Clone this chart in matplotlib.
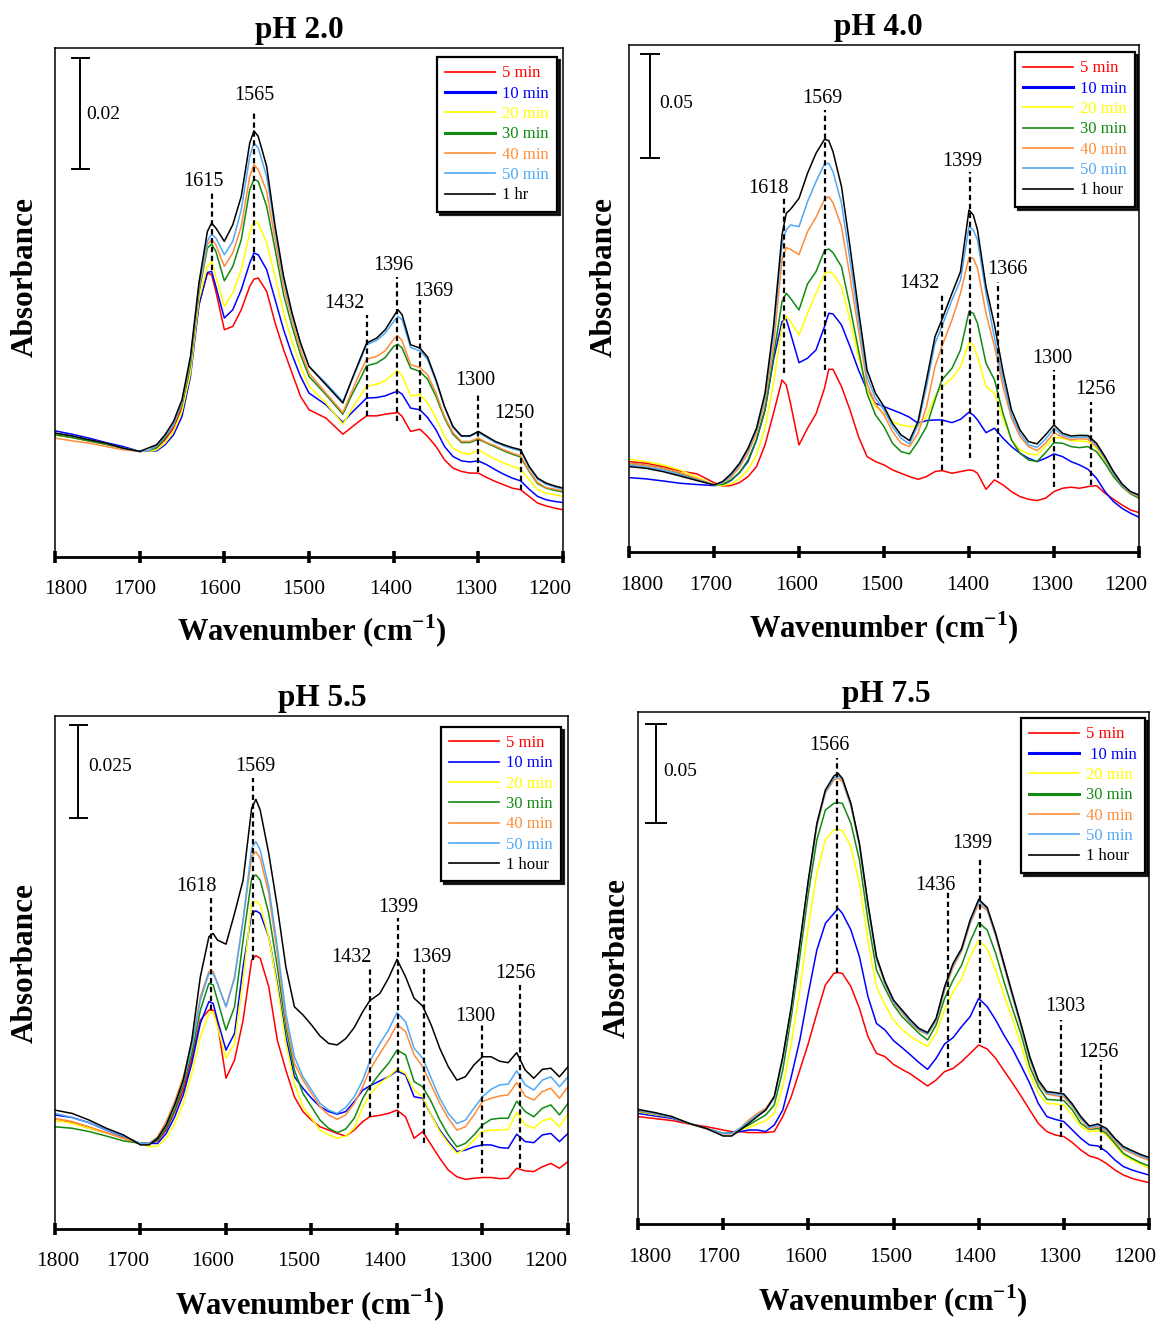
import matplotlib
matplotlib.use("Agg")
import matplotlib.pyplot as plt

plt.rcParams["font.family"] = ["Liberation Serif", "DejaVu Serif"]
plt.rcParams["mathtext.fontset"] = "custom"
plt.rcParams["mathtext.rm"] = "Liberation Serif"
plt.rcParams["mathtext.bf"] = "Liberation Serif:bold"

# ---------------- data (absorbance in mAbs, arbitrary offset) ----------------
SERIES_COLORS = ["#FF0000", "#0000FF", "#FFFF00", "#108A10", "#FF8C38", "#50A8F5", "#000000"]
LABELS_PH20 = ["5 min", "10 min", "20 min", "30 min", "40 min", "50 min", "1 hr"]
LABELS_PH40 = ["5 min", "10 min", "20 min", "30 min", "40 min", "50 min", "1 hour"]
LABELS_PH55 = ["5 min", "10 min", "20 min", "30 min", "40 min", "50 min", "1 hour"]
LABELS_PH75 = ["5 min", " 10 min", "20 min", "30 min", "40 min", "50 min", "1 hour"]
XTICKS = [1800, 1700, 1600, 1500, 1400, 1300, 1200]

# ---- pH 2.0 ----
WN_PH20 = [1800, 1780, 1760, 1740, 1720, 1700, 1690, 1680, 1670, 1660, 1650, 1640, 1630, 1620, 1615, 1610,
           1600, 1590, 1580, 1570, 1565, 1560, 1550, 1540, 1530, 1520, 1510, 1500, 1480, 1460, 1450, 1440,
           1432, 1420, 1410, 1400, 1395, 1390, 1380, 1369, 1360, 1350, 1340, 1330, 1320, 1310, 1300, 1290,
           1280, 1270, 1260, 1250, 1240, 1230, 1220, 1210, 1200]
PH20_5MIN = [22.0, 21.5, 20.9, 20.3, 19.6, 19.0, 19.1, 19.6, 21.1, 23.2, 26.8, 34.0, 45.4, 51.1, 50.8, 47.8,
             40.9, 41.5, 44.5, 48.7, 50.0, 50.2, 47.8, 42.1, 37.3, 33.1, 28.9, 26.5, 25.0, 22.1, 23.3, 24.5,
             25.4, 25.4, 25.7, 25.9, 26.0, 25.3, 22.6, 23.0, 21.7, 19.9, 17.5, 16.0, 15.4, 15.1, 15.1, 14.3,
             13.6, 13.0, 12.4, 12.1, 10.9, 9.7, 9.2, 8.8, 8.5]
PH20_10MIN = [22.7, 22.1, 21.4, 20.6, 19.9, 19.0, 19.1, 19.1, 20.2, 22.0, 25.3, 32.5, 45.4, 51.2, 51.4, 48.7,
              43.0, 44.5, 48.1, 52.9, 54.7, 54.4, 51.7, 46.3, 40.9, 36.4, 32.5, 29.5, 27.4, 24.2, 25.9, 27.4,
              28.6, 28.7, 29.0, 29.6, 29.8, 29.3, 26.8, 26.5, 25.1, 22.9, 19.9, 18.1, 17.3, 17.1, 17.3, 16.6,
              15.7, 14.9, 14.2, 13.7, 12.2, 10.9, 10.3, 10.0, 9.8]
PH20_20MIN = [22.0, 21.5, 20.9, 20.3, 19.6, 19.0, 19.0, 19.3, 20.5, 22.6, 26.2, 33.1, 46.3, 52.3, 53.2, 50.5,
              45.1, 47.5, 51.7, 58.3, 60.5, 60.1, 56.5, 50.5, 43.9, 38.8, 34.3, 30.7, 27.7, 23.9, 26.5, 28.9,
              30.7, 31.1, 31.7, 33.0, 33.5, 32.6, 29.0, 29.2, 27.8, 25.0, 21.7, 19.6, 18.8, 18.5, 19.3, 18.4,
              17.6, 16.9, 16.3, 15.8, 13.9, 12.1, 11.5, 11.2, 10.9]
PH20_30MIN = [22.0, 21.5, 20.9, 20.3, 19.6, 19.0, 19.1, 19.7, 21.4, 23.8, 27.4, 34.6, 47.6, 55.6, 56.3, 55.0,
              49.7, 52.3, 57.1, 66.1, 68.0, 67.6, 63.1, 55.3, 47.2, 41.5, 36.4, 32.5, 29.2, 25.7, 29.0, 31.9,
              34.4, 34.9, 35.9, 37.9, 38.3, 37.6, 34.0, 33.4, 32.0, 28.9, 25.0, 22.1, 20.6, 20.6, 21.2, 20.5,
              19.8, 19.1, 18.5, 18.0, 15.4, 13.2, 12.4, 12.0, 11.7]
PH20_40MIN = [21.4, 20.9, 20.5, 19.9, 19.3, 19.0, 19.1, 20.2, 21.7, 23.8, 27.7, 35.2, 48.1, 56.2, 57.2, 56.2,
              52.3, 54.7, 59.5, 68.5, 70.6, 69.7, 65.8, 57.1, 48.7, 42.7, 37.3, 33.1, 29.5, 26.0, 29.6, 33.1,
              35.6, 36.1, 37.1, 39.2, 39.8, 38.9, 34.6, 34.1, 32.8, 29.5, 25.3, 22.4, 20.8, 20.8, 21.4, 20.6,
              20.0, 19.3, 18.7, 18.2, 15.5, 13.4, 12.5, 12.2, 11.9]
PH20_50MIN = [22.3, 21.8, 21.1, 20.5, 19.6, 19.0, 19.1, 20.0, 21.7, 23.8, 28.0, 35.5, 48.7, 56.9, 58.1, 57.4,
              54.4, 56.8, 62.5, 72.1, 74.5, 73.6, 68.5, 58.9, 49.9, 43.6, 38.5, 34.3, 31.3, 28.0, 31.6, 35.2,
              38.2, 39.0, 40.3, 42.4, 43.3, 42.7, 37.7, 37.1, 35.6, 31.6, 27.0, 23.3, 21.7, 21.7, 22.4, 21.5,
              20.6, 20.0, 19.5, 19.1, 16.1, 14.0, 13.1, 12.6, 12.2]
PH20_1HR = [22.3, 21.8, 21.1, 20.5, 19.6, 19.0, 19.6, 20.2, 22.0, 24.4, 28.3, 36.1, 49.3, 58.6, 60.1, 59.2,
            56.8, 59.8, 64.9, 74.5, 76.7, 75.7, 70.3, 59.5, 50.5, 43.9, 38.5, 34.3, 31.0, 27.7, 31.7, 35.5,
            38.5, 39.4, 40.9, 43.3, 44.5, 43.6, 38.2, 37.6, 36.0, 31.9, 27.1, 23.5, 21.8, 21.8, 22.6, 21.7,
            20.8, 20.2, 19.7, 19.3, 16.3, 14.2, 13.3, 12.8, 12.4]

# ---- pH 4.0 ----
WN_PH40 = [1800, 1780, 1760, 1740, 1720, 1700, 1690, 1680, 1670, 1660, 1650, 1640, 1630, 1620, 1615, 1610,
           1600, 1590, 1580, 1570, 1565, 1560, 1550, 1540, 1530, 1520, 1510, 1500, 1490, 1480, 1470, 1460,
           1450, 1440, 1432, 1420, 1410, 1400, 1395, 1390, 1380, 1370, 1360, 1350, 1340, 1330, 1320, 1310,
           1300, 1290, 1280, 1270, 1260, 1250, 1240, 1230, 1220, 1210, 1200]
PH40_5MIN = [43.4, 42.6, 41.0, 38.9, 37.5, 33.3, 31.7, 31.9, 33.3, 36.2, 41.0, 51.4, 66.6, 82.6, 80.2, 71.4,
             51.4, 59.4, 66.3, 78.6, 87.7, 87.7, 79.4, 68.2, 55.4, 45.8, 43.4,
             41.8, 39.4, 37.8, 36.2, 34.9, 36.2, 38.6, 39.1, 37.8, 38.6, 39.4, 39.1, 37.8, 30.1, 34.6, 32.2,
             29.0, 26.6, 25.3, 24.7, 25.8, 29.0, 30.6, 31.1, 30.6, 31.4, 31.9, 28.2, 25.3, 22.6, 20.2, 18.9]
PH40_10MIN = [35.7, 35.1, 34.1, 33.0, 32.4, 31.9, 32.2, 34.3, 38.1, 43.4, 53.8, 68.2, 92.2, 110.6, 111.7, 105.0,
              90.9, 93.0, 97.0, 108.2, 114.6, 114.3, 109.0, 98.6, 87.4, 77.8, 71.4,
              69.8, 68.2, 66.6, 64.7, 61.8, 63.1, 63.4, 63.4, 62.1, 63.7, 67.1, 65.8, 63.4, 57.3, 59.4, 54.6,
              50.6, 47.4, 45.0, 43.4, 45.0, 47.1, 45.8, 43.4, 41.8, 39.7, 35.4, 29.0, 24.2, 21.0, 18.6, 16.7]
PH40_20MIN = [44.5, 43.4, 41.8, 39.4, 35.9, 32.2, 31.9, 32.7, 35.2, 39.4, 46.6, 59.4, 81.0, 108.2, 113.3, 110.6,
              104.2, 114.6, 124.2, 133.5, 134.6, 133.5, 127.4, 111.4, 93.8, 77.8, 69.8,
              66.6, 62.6, 61.0, 60.2, 60.5, 65.0, 74.6, 79.4, 83.4, 89.0, 100.5, 99.4, 93.8, 79.4, 76.2, 64.2,
              53.8, 49.0, 47.1, 46.6, 50.6, 55.1, 54.6, 53.5, 53.3, 53.0, 49.8, 43.4, 37.0, 31.7, 28.2, 26.6]
PH40_30MIN = [42.6, 41.6, 40.2, 37.8, 34.9, 32.2, 32.4, 34.6, 38.1, 44.2, 53.8, 68.2, 93.8, 120.2, 124.2, 121.8,
              116.2, 128.7, 134.6, 144.7, 145.5, 143.7, 137.0, 117.8, 97.0, 76.2, 65.8,
              60.2, 52.2, 48.2, 47.1, 53.0, 60.2, 73.0, 82.6, 88.2, 97.0, 115.4, 114.6, 109.8, 90.6, 82.6, 66.6,
              53.8, 47.4, 44.2, 43.4, 47.7, 52.5, 52.2, 50.6, 50.1, 50.6, 48.2, 42.6, 36.2, 31.4, 27.9, 25.8]
PH40_40MIN = [42.6, 41.6, 40.2, 38.1, 35.2, 32.2, 33.0, 35.9, 40.7, 47.4, 57.0, 72.2, 98.6, 140.2, 146.1, 145.3,
              142.8, 153.8, 160.7, 169.3, 170.6, 167.7, 156.2, 132.2, 106.6, 81.0, 71.1,
              65.8, 57.8, 52.2, 50.6, 57.0, 69.8, 89.0, 98.6, 111.4, 124.2, 141.5, 141.0, 136.2, 114.6, 98.6, 79.4,
              64.2, 55.4, 50.6, 48.7, 52.2, 57.3, 55.1, 53.8, 54.4, 54.1, 50.6, 44.5, 37.5, 31.9, 28.2, 26.6]
PH40_50MIN = [41.8, 40.7, 39.4, 37.0, 34.6, 32.2, 33.3, 36.8, 41.8, 49.0, 58.6, 74.6, 105.0, 148.2, 154.6, 157.0,
              156.2, 168.2, 177.8, 186.3, 186.6, 182.6, 167.4, 140.2, 111.4, 84.2, 73.8,
              68.2, 60.2, 54.6, 51.9, 61.0, 79.4, 100.2, 108.2, 121.0, 130.6, 156.2, 154.6, 149.8, 124.2, 102.6, 82.9,
              65.8, 57.0, 51.4, 50.3, 54.1, 59.4, 56.0, 54.8, 55.2, 55.1, 51.4, 45.0, 37.8, 32.2, 28.7, 26.9]
PH40_1HOUR = [41.0, 40.2, 38.6, 36.5, 34.3, 32.2, 33.8, 37.5, 42.6, 49.8, 59.4, 76.2, 108.2, 152.2, 162.6, 164.5,
              169.8, 181.8, 191.4, 198.1, 197.5, 192.2, 175.4, 146.6, 116.2, 87.4, 76.2,
              69.8, 61.8, 56.2, 53.5, 62.6, 82.6, 103.4, 111.4, 124.2, 134.6, 164.2, 161.8, 154.6, 127.4, 109.0, 86.6,
              68.2, 58.6, 53.0, 51.9, 56.2, 61.0, 57.0, 55.7, 56.0, 55.9, 52.2, 45.8, 38.6, 32.7, 29.0, 27.4]

# ---- pH 5.5 ----
WN_PH55 = [1800, 1780, 1760, 1740, 1720, 1700, 1690, 1680, 1670, 1660, 1650, 1640, 1630, 1620, 1615, 1610,
           1600, 1590, 1580, 1570, 1565, 1560, 1550, 1540, 1530, 1520, 1510, 1500, 1490, 1480, 1470, 1460,
           1450, 1440, 1432, 1420, 1410, 1400, 1390, 1380, 1370, 1360, 1350, 1340, 1330, 1320, 1310, 1300,
           1290, 1280, 1270, 1260, 1250, 1240, 1230, 1220, 1210, 1200]
PH55_5MIN = [29.4, 28.7, 27.2, 26.0, 24.5, 23.1, 23.1, 23.8, 26.7, 31.7, 37.5, 46.1, 56.4, 59.1, 59.1, 55.5,
             40.7, 45.6, 56.4, 72.6, 73.8, 73.1, 65.4, 51.0, 42.9, 35.7,
             31.7, 29.4, 27.6, 26.7, 25.8, 25.1, 26.7, 29.0, 30.3, 30.7, 31.2, 32.1, 30.3, 24.5, 26.3, 22.7,
             19.1, 15.9, 14.1, 13.4, 13.7, 13.9, 13.9, 13.6, 13.7, 16.4, 15.7, 15.5, 16.8, 17.7, 16.4, 18.2]
PH55_10MIN = [30.8, 30.1, 28.7, 26.7, 24.9, 23.1, 23.1, 23.1, 25.8, 30.3, 36.2, 44.7, 55.5, 61.4, 60.9, 56.4,
              48.3, 52.8, 70.8, 85.2, 85.9, 85.2, 78.9, 66.3, 51.9, 41.1,
              38.0, 35.3, 33.0, 31.7, 31.0, 31.7, 34.4, 37.5, 38.6, 40.0, 41.1, 42.7, 41.6, 35.7, 35.3, 30.8,
              26.7, 23.6, 20.9, 21.3, 22.2, 22.7, 22.7, 22.0, 21.8, 25.6, 23.6, 23.3, 25.4, 25.8, 23.6, 25.8]
PH55_20MIN = [29.4, 28.5, 27.2, 26.0, 24.5, 23.1, 22.2, 22.4, 24.5, 28.5, 33.9, 42.0, 51.9, 58.2, 58.7, 54.6,
              46.1, 50.1, 67.2, 87.9, 88.6, 87.5, 78.9, 65.4, 50.1, 39.3,
              33.0, 29.9, 26.7, 25.4, 24.5, 25.1, 27.2, 33.0, 36.2, 39.3, 41.1, 43.2, 42.0, 37.5, 35.7, 30.8,
              26.3, 23.1, 20.4, 21.8, 24.0, 26.3, 26.7, 26.7, 26.9, 31.4, 28.1, 27.2, 29.2, 29.9, 27.6, 31.2]
PH55_30MIN = [27.6, 27.2, 26.3, 25.1, 23.8, 23.1, 23.1, 24.0, 27.2, 32.1, 38.9, 47.4, 59.1, 66.3, 65.9, 61.8,
              53.7, 60.0, 78.0, 94.7, 95.6, 94.2, 85.2, 70.8, 54.6, 42.9,
              36.6, 33.0, 29.4, 27.2, 26.0, 27.0, 29.9, 35.3, 38.4, 42.0, 44.7, 48.3, 47.0, 39.8, 38.4, 34.4,
              29.4, 25.4, 22.2, 23.1, 25.4, 28.1, 29.6, 29.9, 29.9, 34.5, 31.7, 30.3, 32.6, 33.5, 30.8, 33.9]
PH55_40MIN = [29.9, 29.0, 27.6, 26.0, 24.5, 23.1, 23.1, 24.9, 29.0, 34.4, 41.1, 50.1, 62.7, 69.5, 69.5, 66.3,
              60.0, 68.1, 83.4, 100.5, 101.9, 100.1, 90.6, 74.4, 56.4, 44.7,
              40.2, 36.6, 33.0, 30.8, 29.6, 30.8, 33.9, 38.4, 42.9, 47.4, 51.0, 55.2, 53.3, 47.0, 43.8, 38.9,
              33.9, 29.9, 26.7, 27.6, 30.8, 34.4, 35.3, 35.9, 36.2, 39.5, 35.9, 34.8, 37.1, 38.0, 35.3, 38.4]
PH55_50MIN = [31.2, 30.1, 28.7, 26.7, 25.1, 23.1, 23.1, 24.5, 28.1, 33.5, 39.8, 49.2, 61.8, 69.0, 69.0, 66.3,
              60.0, 67.7, 83.4, 102.8, 104.6, 102.3, 92.4, 76.2, 58.2, 46.5,
              41.1, 37.5, 33.9, 32.1, 31.2, 32.8, 35.7, 40.2, 45.2, 50.1, 53.7, 58.4, 56.0, 48.8, 46.1, 40.7,
              35.3, 31.2, 28.5, 29.4, 32.6, 35.7, 37.7, 38.9, 39.1, 42.7, 38.9, 37.5, 40.2, 41.1, 38.4, 41.1]
PH55_1HOUR = [32.1, 31.2, 29.4, 27.2, 25.4, 22.7, 22.7, 24.5, 28.1, 33.5, 40.2, 51.0, 68.1, 78.9, 79.8, 78.0,
              76.9, 85.2, 94.2, 113.6, 116.0, 113.1, 101.4, 87.0, 70.8, 60.0,
              57.8, 55.1, 52.1, 50.1, 49.7, 51.4, 54.4, 58.7, 61.6, 63.6, 67.7, 72.8, 68.1, 62.3, 60.2, 55.1,
              48.8, 43.8, 40.2, 41.1, 44.3, 46.5, 46.5, 45.3, 44.9, 47.6, 42.9, 40.7, 43.1, 43.4, 41.1, 43.8]

# ---- pH 7.5 ----
WN_PH75 = [1800, 1780, 1760, 1740, 1720, 1700, 1690, 1680, 1670, 1660, 1650, 1640, 1630, 1620, 1610, 1600,
           1590, 1580, 1570, 1565, 1560, 1550, 1540, 1530, 1520, 1510, 1500, 1490, 1480, 1470, 1460, 1450,
           1440, 1430, 1420, 1410, 1400, 1390, 1380, 1370, 1360, 1350, 1340, 1330, 1320, 1310, 1300, 1290,
           1280, 1270, 1260, 1250, 1240, 1230, 1220, 1210, 1200]
PH75_5MIN = [53.7, 52.7, 51.7, 50.0, 48.7, 47.0, 46.2, 46.2, 45.7, 45.7, 45.7, 46.2, 53.7, 63.7, 77.0, 90.3,
             105.3, 119.5, 125.3, 125.7, 125.3, 118.7, 107.8, 93.7, 85.3,
             83.7, 79.8, 77.3, 75.0, 72.0, 69.0, 72.0, 76.2, 77.8, 81.2, 85.3, 89.5, 87.5, 82.8, 76.5, 70.3,
             63.8, 57.0, 50.3, 46.2, 44.5, 43.7, 40.7, 37.0, 34.0, 32.8, 30.3, 27.0, 24.5, 22.8, 21.7, 20.7]
PH75_10MIN = [55.3, 54.0, 52.8, 50.3, 47.8, 45.3, 45.7, 46.2, 47.0, 47.0, 46.2, 49.5, 57.0, 73.7, 92.0, 115.3,
              137.0, 150.3, 155.3, 157.8, 155.3, 147.0, 133.7, 113.7, 100.3,
              97.0, 91.7, 88.2, 84.5, 80.7, 77.3, 82.8, 90.0, 93.2, 98.7, 103.7, 112.8, 108.7, 102.0, 94.2, 87.3,
              79.0, 70.3, 60.3, 53.7, 52.3, 51.2, 47.0, 42.8, 39.5, 39.0, 36.2, 32.0, 28.7, 27.0, 25.7, 24.5]
PH75_20MIN = [56.2, 54.7, 53.3, 50.3, 47.8, 45.3, 45.3, 47.0, 48.3, 50.0, 51.7, 55.3, 68.7, 90.3, 117.0, 148.7,
              175.3, 192.0, 197.0, 197.3, 196.7, 188.7, 170.3, 142.0, 118.7,
              109.5, 102.0, 97.3, 93.7, 91.2, 88.7, 95.3, 107.3, 116.2, 122.8, 133.7, 142.0, 137.8, 127.0, 114.0,
              102.3, 89.0, 75.3, 65.3, 60.3, 60.0, 59.5, 54.5, 48.7, 46.2, 46.7, 44.5, 39.5, 34.5, 32.0, 30.0, 27.8]
PH75_30MIN = [56.5, 55.0, 53.3, 50.3, 47.8, 45.3, 45.3, 47.3, 49.5, 52.0, 54.5, 59.5, 77.0, 103.7, 133.7, 165.3,
              192.0, 207.0, 210.3, 210.7, 210.3, 200.3, 182.0, 152.0, 127.0,
              117.8, 109.5, 103.7, 99.5, 95.3, 92.0, 99.5, 112.8, 122.0, 129.5, 141.2, 150.7, 147.0, 135.3, 120.7,
              107.3, 94.5, 78.7, 68.7, 62.3, 62.0, 61.7, 57.0, 50.3, 47.3, 47.8, 45.3, 40.3, 35.3, 32.8, 30.7, 29.0]
PH75_40MIN = [56.8, 55.1, 53.4, 50.1, 47.6, 45.1, 45.2, 48.0, 52.0, 55.3, 57.8, 63.9, 82.5, 107.2, 139.0, 170.6,
              198.8, 215.5, 222.0, 222.8, 221.2, 209.0, 189.0, 159.0, 132.4,
              119.9, 110.5, 105.6, 100.4, 96.6, 94.8, 101.4, 116.8, 128.4, 136.4, 150.2, 160.0, 156.8, 143.9, 128.3,
              113.1, 98.0, 82.2, 70.5, 64.9, 64.2, 63.5, 58.7, 52.4, 47.6, 48.6, 46.3, 41.4, 37.3, 35.3, 33.4, 31.9]
PH75_50MIN = [57.0, 55.3, 53.3, 50.3, 47.8, 45.3, 45.3, 47.8, 51.2, 54.5, 57.0, 62.8, 82.8, 107.8, 139.5, 171.2,
              199.5, 216.2, 222.8, 224.0, 222.3, 209.5, 189.5, 159.5, 132.8,
              120.5, 111.0, 106.4, 101.0, 97.2, 95.0, 102.2, 117.8, 129.6, 137.1, 151.0, 161.4, 157.6, 144.6, 129.1,
              113.6, 98.8, 83.0, 71.3, 65.5, 64.9, 64.3, 59.3, 53.0, 48.3, 49.2, 47.0, 42.1, 38.0, 36.0, 34.1, 32.6]
PH75_1HOUR = [57.3, 55.7, 53.7, 50.3, 47.8, 44.0, 44.0, 47.0, 50.3, 53.7, 57.0, 63.7, 83.7, 108.7, 140.3, 172.0,
              200.3, 217.0, 224.0, 225.3, 222.8, 210.3, 190.3, 160.3, 133.7,
              121.2, 112.0, 107.0, 102.0, 97.8, 95.7, 102.8, 118.7, 130.3, 137.8, 152.0, 162.3, 158.3, 145.3, 129.8,
              114.5, 99.5, 83.7, 72.0, 66.2, 65.7, 65.0, 60.0, 53.7, 49.0, 50.0, 47.8, 42.8, 38.7, 36.7, 34.8, 33.3]

# peak marks: (label, wavenumber, dash top, dash bottom, label y, label x-shift px)
PEAKS_PH20 = [("1615", 1615, 65.7, 51.7, 67.5, -8), ("1565", 1565, 80.5, 51.7, 83.0, 0),
              ("1432", 1432, 43.6, 25.4, 45.7, -22), ("1396", 1396, 50.4, 24.5, 52.4, -4),
              ("1369", 1369, 46.3, 24.7, 47.7, 13), ("1300", 1300, 29.5, 15.3, 31.7, -3),
              ("1250", 1250, 24.1, 12.1, 25.9, -6)]
PEAKS_PH40 = [("1618", 1618, 170.5, 85.9, 174.7, -15), ("1569", 1569, 212.2, 87.4, 217.9, -3),
              ("1432", 1432, 123.4, 39.4, 129.1, -22), ("1399", 1399, 182.4, 45.1, 187.7, -8),
              ("1366", 1366, 129.7, 35.5, 135.4, 10), ("1300", 1300, 87.4, 31.3, 93.1, -2),
              ("1256", 1256, 72.1, 32.2, 77.8, 4)]
PEAKS_PH55 = [("1618", 1618, 89.7, 59.1, 92.4, -14), ("1569", 1569, 121.8, 72.6, 125.0, 3),
              ("1432", 1432, 70.8, 30.3, 73.2, -18), ("1399", 1399, 84.0, 30.3, 86.7, 0),
              ("1369", 1369, 70.8, 23.1, 73.2, 8), ("1300", 1300, 55.1, 15.0, 57.3, -7),
              ("1256", 1256, 66.3, 16.4, 69.0, -5)]
PEAKS_PH75 = [("1566", 1566, 233.0, 125.7, 239.0, -8), ("1436", 1436, 166.2, 78.7, 169.5, -13),
              ("1399", 1399, 183.5, 90.3, 190.0, -7), ("1303", 1303, 102.0, 43.7, 108.7, 4),
              ("1256", 1256, 82.0, 37.0, 85.7, -3)]

# ---------------- layout ----------------
FIG_W, FIG_H = 1158, 1324
fig = plt.figure(figsize=(FIG_W / 100, FIG_H / 100), dpi=100)

panels = [
    dict(title="pH 2.0", title_x=0.482, rect=(55, 48, 563, 557), wn=WN_PH20,
         series=[PH20_5MIN, PH20_10MIN, PH20_20MIN, PH20_30MIN, PH20_40MIN, PH20_50MIN, PH20_1HR],
         labels=LABELS_PH20, ytop=91.6, bar=(1770, 69.8, 89.8, 10.5, 1763.4, 79.6, "0.02"),
         peaks=PEAKS_PH20, leg=(0.988, 0.982), thick=[1, 3],
         tickoff=[11, -5, -5, -5, -3, -3, -13], xlab=(0.506, -0.147), ylab=(-0.059, 0.55)),
    dict(title="pH 4.0", title_x=0.488, rect=(629, 45, 1139, 552), wn=WN_PH40,
         series=[PH40_5MIN, PH40_10MIN, PH40_20MIN, PH40_30MIN, PH40_40MIN, PH40_50MIN, PH40_1HOUR],
         labels=LABELS_PH40, ytop=243.4, bar=(1775.3, 189.0, 239.0, 10.5, 1764.7, 215.5, "0.05"),
         peaks=PEAKS_PH40, leg=(0.992, 0.986), thick=[1],
         tickoff=[13, -3, -2, -2, -1, -2, -13], xlab=(0.5, -0.15), ylab=(-0.049, 0.542)),
    dict(title="pH 5.5", title_x=0.522, rect=(55, 716, 568, 1229), wn=WN_PH55,
         series=[PH55_5MIN, PH55_10MIN, PH55_20MIN, PH55_30MIN, PH55_40MIN, PH55_50MIN, PH55_1HOUR],
         labels=LABELS_PH55, ytop=138.5, bar=(1773, 111.0, 136.0, 10.0, 1761.4, 125.0, "0.025"),
         peaks=PEAKS_PH55, leg=(0.986, 0.979), thick=[],
         tickoff=[3, -13, -13, -13, -12, -12, -22], xlab=(0.497, -0.148), ylab=(-0.058, 0.518)),
    dict(title="pH 7.5", title_x=0.485, rect=(638, 712, 1149, 1224), wn=WN_PH75,
         series=[PH75_5MIN, PH75_10MIN, PH75_20MIN, PH75_30MIN, PH75_40MIN, PH75_50MIN, PH75_1HOUR],
         labels=LABELS_PH75, ytop=256.0, bar=(1778.9, 200.5, 250.0, 12.0, 1770.6, 226.0, "0.05"),
         peaks=PEAKS_PH75, leg=(0.992, 0.988), thick=[1, 3],
         tickoff=[12, -4, -3, -3, -4, -4, -14], xlab=(0.499, -0.152), ylab=(-0.041, 0.52)),
]

for p in panels:
    l, t, r, b = p["rect"]
    ax = fig.add_axes([l / FIG_W, 1 - b / FIG_H, (r - l) / FIG_W, (b - t) / FIG_H])
    for vals, lab, col in zip(p["series"], p["labels"], SERIES_COLORS):
        ax.plot(p["wn"], vals, color=col, lw=1.1, label=lab, solid_joinstyle="round")
    ax.set_xlim(1800, 1200)
    ax.set_ylim(0, p["ytop"])
    ax.set_xticks(XTICKS)
    ax.set_xticklabels([])
    ax.set_yticks([])
    ax.tick_params(axis="x", direction="inout", length=9, width=2.6, color="black")
    for s in ["left", "top", "right"]:
        ax.spines[s].set_linewidth(1.1)
    ax.spines["bottom"].set_linewidth(2.0)

    for tk, off in zip(XTICKS, p["tickoff"]):
        ax.annotate(str(tk), xy=(tk, 0), xycoords=("data", "axes fraction"),
                    xytext=(off, -33), textcoords="offset pixels",
                    ha="center", va="center", fontsize=15.5, annotation_clip=False)

    ttl = ax.set_title(p["title"], fontsize=22.5, fontweight="bold", pad=7)
    ttl.set_x(p["title_x"])
    ax.text(p["xlab"][0], p["xlab"][1], r"Wavenumber (cm$^{\mathbf{-1}}$)", transform=ax.transAxes,
            ha="center", va="center", fontsize=22, fontweight="bold")
    ax.text(p["ylab"][0], p["ylab"][1], "Absorbance", transform=ax.transAxes, rotation=90,
            ha="center", va="center", fontsize=22.5, fontweight="bold")

    # scale bar
    bw, by0, by1, cap, tx, ty, txt = p["bar"]
    ax.plot([bw, bw], [by0, by1], color="black", lw=1.4)
    ax.plot([bw + cap, bw - cap], [by0, by0], color="black", lw=1.4)
    ax.plot([bw + cap, bw - cap], [by1, by1], color="black", lw=1.4)
    ax.text(tx, ty, txt, ha="left", va="center", fontsize=14)

    # peak marks
    for lab, w, top, bot, ly, dx in p["peaks"]:
        ax.plot([w, w], [bot, top], color="black", lw=1.6, linestyle=(0, (2.4, 1.6)))
        ax.annotate(lab, xy=(w, ly), xytext=(dx, 0), textcoords="offset pixels",
                    ha="center", va="center", fontsize=14.5)

    leg = ax.legend(loc="upper right", bbox_to_anchor=p["leg"], borderaxespad=0, fontsize=12,
                    frameon=True, fancybox=False, shadow={"color": "black", "alpha": 0.85},
                    framealpha=1, edgecolor="black", handlelength=3.0, handletextpad=0.4,
                    labelspacing=0.26, borderpad=0.5)
    leg.get_frame().set_linewidth(1.6)
    for txt_obj, col in zip(leg.get_texts(), SERIES_COLORS):
        txt_obj.set_color(col)
    for i, ln in enumerate(leg.get_lines()):
        ln.set_linewidth(2.2 if i in p["thick"] else 1.2)

fig.savefig("out.png", dpi=100)
